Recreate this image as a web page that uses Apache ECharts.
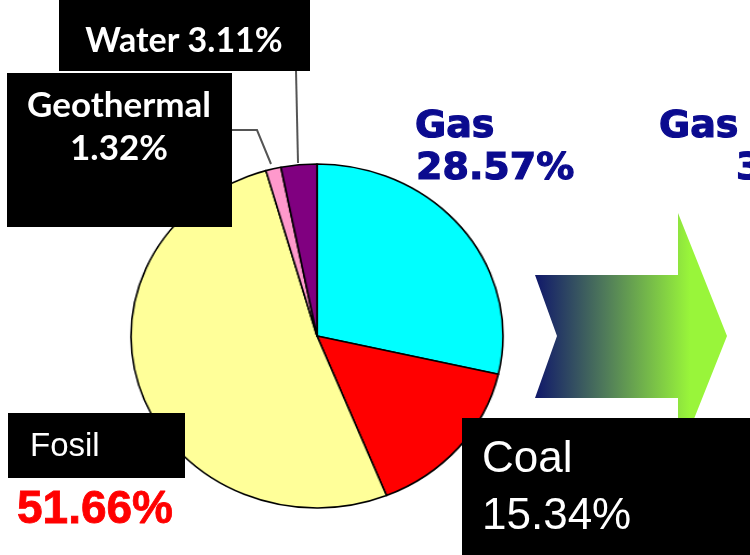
<!DOCTYPE html>
<html>
<head>
<meta charset="utf-8">
<script src="https://cdn.jsdelivr.net/npm/echarts@6/dist/echarts.min.js"></script>
<style>
html,body{margin:0;padding:0;background:#fff;}
#wrap{position:relative;width:750px;height:555px;overflow:hidden;background:#fff;}
#pie{position:absolute;left:0;top:0;width:750px;height:555px;transform:scaleX(1.0814);transform-origin:317px 0;}
#over{position:absolute;left:0;top:0;width:750px;height:555px;}
</style>
</head>
<body>
<div id="wrap"><div id="pie"></div><div id="over"></div></div>
<script>
// Data
const categories = ['Gas', 'Coal', 'Fosil', 'Geothermal', 'Water'];
const shares = [28.57, 15.34, 51.66, 1.32, 3.11];
const sliceColors = ['#00ffff', '#ff0000', '#ffff99', '#ff99cc', '#800080'];
const labelNames = ['Gas', 'Coal', 'Fosil', 'Geothermal', 'Water'];
const labelValues = ['28.57%', '15.34%', '51.66%', '1.32%', '3.11%'];
const nextGasName = 'Gas';
const nextGasValue = '3';

const pie = echarts.init(document.getElementById('pie'), null, {renderer: 'canvas'});
pie.setOption({
  animation: false,
  backgroundColor: 'transparent',
  series: [{
    type: 'pie',
    center: [317, 336],
    radius: 172,
    startAngle: 90,
    clockwise: true,
    silent: true,
    label: {show: false},
    labelLine: {show: false},
    itemStyle: {borderColor: '#000', borderWidth: 1.6},
    data: categories.map((c, i) => ({name: c, value: shares[i], itemStyle: {color: sliceColors[i]}}))
  }]
});

const over = echarts.init(document.getElementById('over'), null, {renderer: 'canvas'});
function txt(x, y, text, font, size, weight, color, align, strokeW) {
  const style = {text: text, fontFamily: font, fontSize: size, fontWeight: weight, fill: color,
    align: align || 'left', verticalAlign: 'middle', lineHeight: size};
  if (strokeW) { style.stroke = color; style.lineWidth = strokeW; }
  return {type: 'text', x: x, y: y, silent: true, style: style};
}
const lineStyle = {stroke: '#555', lineWidth: 2};
const gasColor = '#0b0b8f';
over.setOption({
  animation: false,
  backgroundColor: 'transparent',
  graphic: [
    // arrow
    {type: 'polygon', silent: true,
      shape: {points: [[535, 275], [678, 275], [678, 213], [727, 336], [678, 459], [678, 398], [535, 398], [557, 336]]},
      style: {fill: {type: 'linear', x: 535, y: 0, x2: 690, y2: 0, global: true,
        colorStops: [{offset: 0, color: '#10186a'}, {offset: 0.45, color: '#4f7a5a'}, {offset: 1, color: '#99f53a'}]}}},
    // leader lines
    {type: 'line', silent: true, shape: {x1: 296, y1: 70, x2: 298, y2: 163}, style: lineStyle},
    {type: 'polyline', silent: true, shape: {points: [[232, 130], [257, 130], [271, 164]]}, style: lineStyle},
    // boxes
    {type: 'rect', silent: true, shape: {x: 59, y: 0, width: 251, height: 71}, style: {fill: '#000'}},
    {type: 'rect', silent: true, shape: {x: 7, y: 73, width: 225, height: 154}, style: {fill: '#000'}},
    {type: 'rect', silent: true, shape: {x: 8, y: 413, width: 177, height: 65}, style: {fill: '#000'}},
    {type: 'rect', silent: true, shape: {x: 462, y: 418, width: 300, height: 140}, style: {fill: '#000'}},
    // texts
    txt(184, 41, labelNames[4] + ' ' + labelValues[4], 'Lato', 34, 'bold', '#fff', 'center'),
    txt(119, 106, labelNames[3], 'Lato', 35, 'bold', '#fff', 'center'),
    txt(119, 149, labelValues[3], 'Lato', 35, 'bold', '#fff', 'center'),
    txt(415, 127, labelNames[0], 'DejaVu Sans', 38, 'bold', gasColor, 'left', 1.2),
    txt(416, 169, labelValues[0], 'DejaVu Sans', 38, 'bold', gasColor, 'left', 1.2),
    txt(659, 127, nextGasName, 'DejaVu Sans', 38, 'bold', gasColor, 'left', 1.2),
    txt(736, 169, nextGasValue, 'DejaVu Sans', 38, 'bold', gasColor, 'left', 1.2),
    txt(482, 460, labelNames[1], 'Liberation Sans', 44, 'normal', '#fff'),
    txt(482, 517, labelValues[1], 'Liberation Sans', 44, 'normal', '#fff'),
    txt(30, 447, labelNames[2], 'Liberation Sans', 33, 'normal', '#fff'),
    txt(17, 510, labelValues[2], 'Liberation Sans', 46, 'bold', '#ff0000', 'left', 0.8)
  ]
});
</script>
</body>
</html>
